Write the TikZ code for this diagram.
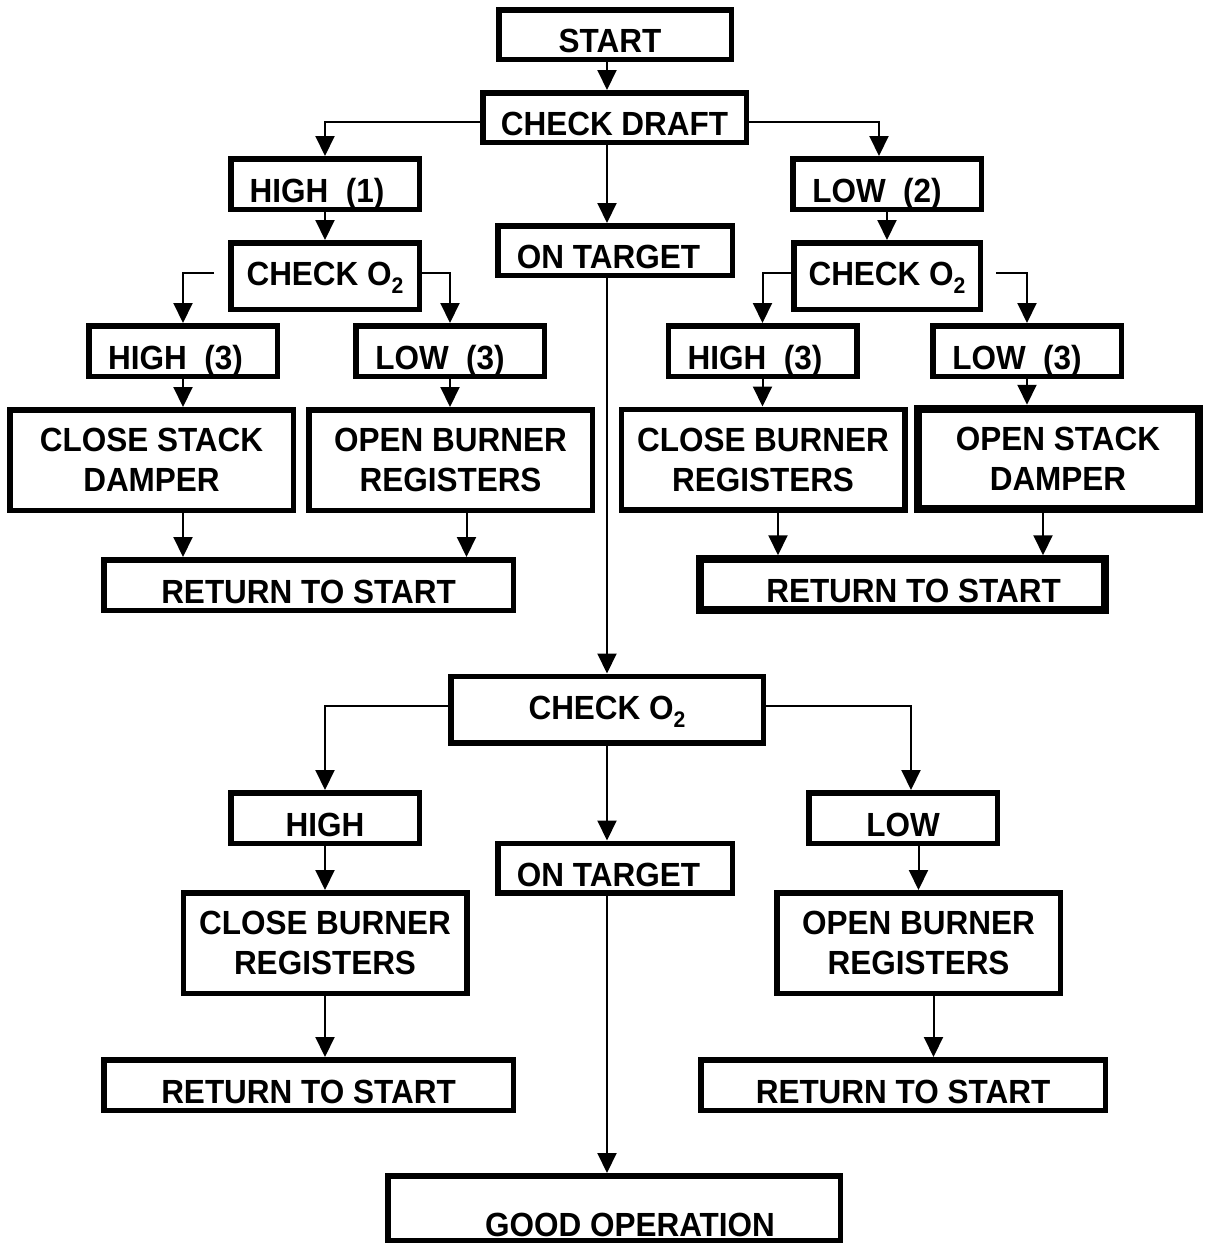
\documentclass[tikz,border=0pt]{standalone}
\usepackage{fontspec}
\setmainfont{Liberation Sans}[FakeStretch=0.94]
\usepackage{tikz}
\usetikzlibrary{arrows.meta}

\newcommand{\Otwo}{O\raisebox{-8pt}{\fontsize{22.5}{24}\selectfont 2}}

\begin{document}
\begin{tikzpicture}[x=1pt, y=-1pt]
    \tikzstyle{boxop} = [rectangle, draw, line width=5.5pt, inner sep=0pt, font=\fontsize{33.5}{40}\selectfont\bfseries]
    \tikzstyle{oneline} = [text height=36pt, text depth=0pt]
    \tikzstyle{levelop} = [boxop, oneline, minimum width=188.5pt, minimum height=50.5pt]
    \tikzstyle{targetop} = [boxop, oneline, minimum width=234.5pt, minimum height=49.5pt]
    \tikzstyle{checkop} = [boxop, text height=19pt, text depth=0pt, minimum height=66.5pt]
    \tikzstyle{actop} = [boxop, align=center, minimum width=283.5pt, minimum height=100.5pt]
    \tikzstyle{retop} = [boxop, oneline, minimum width=409.5pt, minimum height=50.5pt]
    \tikzstyle{heavyop} = [line width=8pt]
    \tikzstyle{flow} = [line width=2pt, -{Triangle[width=19pt, length=20pt]}]

    \useasboundingbox (0,0) rectangle (1206,1243);
    \coordinate (trunk) at (607, 0);

    % Draft check
    \node[boxop, oneline, minimum width=232.5pt, minimum height=49.5pt] (start) at (615, 34.5) {START\hspace*{10pt}};
    \node[boxop, oneline, minimum width=263.5pt, minimum height=49.5pt] (draft) at (614.5, 117.5) {CHECK DRAFT};
    \node[levelop] (highA) at (325, 184) {HIGH\ \ (1)\hspace*{16pt}};
    \node[levelop] (lowA) at (887, 184) {LOW\ \ (2)\hspace*{20pt}};
    \node[targetop] (targetA) at (615, 250.5) {ON TARGET\hspace*{13pt}};

    % O2 check after high / low draft
    \node[checkop, minimum width=188.5pt] (chkA) at (325, 276) {CHECK \Otwo};
    \node[checkop, minimum width=186.5pt] (chkB) at (887, 276) {CHECK \Otwo};
    \node[levelop] (highB) at (183, 351) {HIGH\ \ (3)\hspace*{15pt}};
    \node[levelop] (lowB) at (450, 351) {LOW\ \ (3)\hspace*{20pt}};
    \node[levelop] (highC) at (762.5, 351) {HIGH\ \ (3)\hspace*{15pt}};
    \node[levelop] (lowC) at (1027, 351) {LOW\ \ (3)\hspace*{20pt}};
    \node[actop] (cstack) at (151.5, 460) {CLOSE STACK\\DAMPER};
    \node[actop] (oburner) at (450.5, 460) {OPEN BURNER\\REGISTERS};
    \node[actop] (cburner) at (763, 459.5) {CLOSE BURNER\\REGISTERS};
    \node[actop, heavyop, minimum width=281pt] (ostack) at (1058, 459) {OPEN STACK\\DAMPER};
    \node[retop] (retA) at (308.5, 585) {RETURN TO START};
    \node[retop, heavyop, minimum width=405pt] (retB) at (902.5, 584.5) {\hspace*{22pt}RETURN TO START};

    % O2 check on target
    \node[checkop, minimum width=312.5pt] (chkC) at (607, 709.5) {CHECK \Otwo};
    \node[levelop] (highD) at (325, 818) {HIGH};
    \node[levelop] (lowD) at (903, 818) {LOW};
    \node[targetop] (targetB) at (615, 868) {ON TARGET\hspace*{13pt}};
    \node[actop] (cburnerB) at (325, 943) {CLOSE BURNER\\REGISTERS};
    \node[actop] (oburnerB) at (918.5, 943) {OPEN BURNER\\REGISTERS};
    \node[retop] (retC) at (308.5, 1085) {RETURN TO START};
    \node[retop, minimum width=404.5pt] (retD) at (903, 1085) {RETURN TO START};
    \node[boxop, minimum width=452.5pt, minimum height=64.5pt, text height=57pt, text depth=0pt] (good) at (614, 1208) {\hspace*{32pt}GOOD OPERATION};

    % Connectors
    \draw[flow] (start.south -| trunk) -- (draft.north -| trunk);
    \draw[flow] ([yshift=-4.5pt]draft.west) -| (highA.north);
    \draw[flow] ([yshift=-4.5pt]draft.east) -| ([xshift=-8pt]lowA.north);
    \draw[flow] (draft.south -| trunk) -- (targetA.north -| trunk);
    \draw[flow] (highA.south) -- (chkA.north);
    \draw[flow] (lowA.south) -- (chkB.north);

    \draw[flow, shorten <=14pt] ([yshift=3pt]chkA.west) -| (highB.north);
    \draw[flow] ([yshift=3pt]chkA.east) -| (lowB.north);
    \draw[flow] ([yshift=3pt]chkB.west) -| (highC.north);
    \draw[flow, shorten <=13pt] ([yshift=3pt]chkB.east) -| (lowC.north);
    \draw[flow] (highB.south) -- (highB.south |- cstack.north);
    \draw[flow] (lowB.south) -- (lowB.south |- oburner.north);
    \draw[flow] (highC.south) -- (highC.south |- cburner.north);
    \draw[flow] (lowC.south) -- (lowC.south |- ostack.north);
    \draw[flow] (cstack.south -| highB) -- (retA.north -| highB);
    \draw[flow] ([xshift=16pt]oburner.south) -- ([xshift=16pt]oburner.south |- retA.north);
    \draw[flow] ([xshift=15pt]cburner.south) -- ([xshift=15pt]cburner.south |- retB.north);
    \draw[flow] ([xshift=-15pt]ostack.south) -- ([xshift=-15pt]ostack.south |- retB.north);

    \draw[flow] (targetA.south -| trunk) -- (chkC.north -| trunk);
    \draw[flow] ([yshift=3.5pt]chkC.west) -| (highD.north);
    \draw[flow] ([yshift=3.5pt]chkC.east) -| ([xshift=8pt]lowD.north);
    \draw[flow] (chkC.south -| trunk) -- (targetB.north -| trunk);
    \draw[flow] (highD.south) -- (cburnerB.north);
    \draw[flow] (lowD.south -| oburnerB) -- (oburnerB.north);
    \draw[flow] (cburnerB.south) -- (cburnerB.south |- retC.north);
    \draw[flow] ([xshift=15pt]oburnerB.south) -- ([xshift=15pt]oburnerB.south |- retD.north);
    \draw[flow] (targetB.south -| trunk) -- (good.north -| trunk);

\end{tikzpicture}
\end{document}
